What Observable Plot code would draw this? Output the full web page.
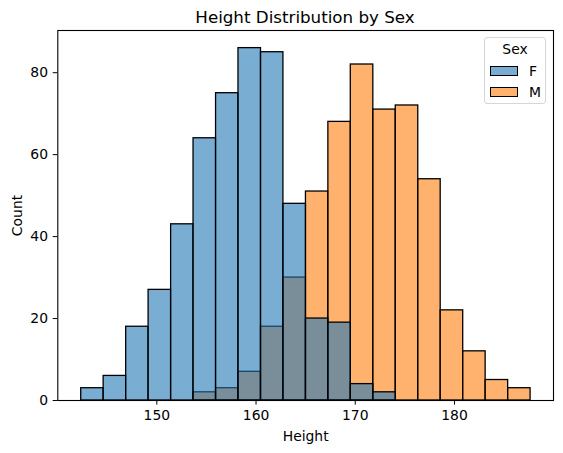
<!DOCTYPE html>
<html>
<head>
<meta charset="utf-8">
<script src="https://cdn.jsdelivr.net/npm/d3@7"></script>
<script src="https://cdn.jsdelivr.net/npm/@observablehq/plot@0.6"></script>
<style>
  body { margin: 0; background: #fff; font-family: "DejaVu Sans", sans-serif; }
  #wrap { position: relative; width: 563px; height: 453px; }
  #chart { position: absolute; left: 0; top: 0; }
  #title { position: absolute; left: 57px; width: 496px; top: 7px; text-align: center; font-size: 16.7px; color: #000; line-height: 20px; }
  #legendBox { position: absolute; left: 484px; top: 37px; width: 62px; height: 67px; box-sizing: border-box;
               border: 1px solid #d6d6d6; border-radius: 3px; background: rgba(255,255,255,0.8); }
  .lgText { position: absolute; font-size: 13.9px; line-height: 16px; color: #000; white-space: nowrap; }
  .sw { position: absolute; left: 490px; width: 28px; height: 10px; box-sizing: border-box; border: 1.3px solid #000; }
</style>
</head>
<body>
<div id="wrap">
  <div id="chart"></div>
  <div id="title"></div>
  <div id="legendBox"></div>
</div>
<script>
const chartTitle = "Height Distribution by Sex";
const xLabel = "Height";
const yLabel = "Count";
const legendTitle = "Sex";
const sexes = ["F", "M"];
const sexColors = ["#1f77b4", "#ff7f0e"];
const binEdges = [142.38, 144.64, 146.91, 149.17, 151.44, 153.70, 155.97, 158.23, 160.50, 162.76,
                  165.03, 167.29, 169.55, 171.82, 174.08, 176.35, 178.61, 180.88, 183.14, 185.41, 187.67];
const countsF = [3, 6, 18, 27, 43, 64, 75, 86, 85, 48, 20, 19, 4, 2, 0, 0, 0, 0, 0, 0];
const countsM = [0, 0, 0, 0, 0, 2, 3, 7, 18, 30, 51, 68, 82, 71, 72, 54, 22, 12, 5, 3];
const xTicks = [150, 160, 170, 180];
const yTicks = [0, 20, 40, 60, 80];

// M drawn first, F layered on top (as in the reference)
const rows = [];
countsM.forEach((c, i) => { if (c > 0) rows.push({sex: "M", x1: binEdges[i], x2: binEdges[i + 1], count: c}); });
countsF.forEach((c, i) => { if (c > 0) rows.push({sex: "F", x1: binEdges[i], x2: binEdges[i + 1], count: c}); });

const chart = Plot.plot({
  width: 563,
  height: 453,
  marginLeft: 57.3,
  marginRight: 10,
  marginTop: 30,
  marginBottom: 53,
  style: { fontFamily: "DejaVu Sans, sans-serif", fontSize: "13.9px", color: "#000", background: "#fff" },
  x: { domain: [140.02, 189.98], ticks: xTicks, tickSize: 4.6, tickPadding: 5.4, label: xLabel,
       labelAnchor: "center", labelArrow: "none", labelOffset: 40 },
  y: { domain: [0, 90.3], ticks: yTicks, tickSize: 4.6, tickPadding: 5.2, label: yLabel,
       labelAnchor: "center", labelArrow: "none", labelOffset: 45.5 },
  color: { domain: sexes, range: sexColors },
  marks: [
    Plot.rect(rows, { x1: "x1", x2: "x2", y1: d => 0, y2: "count", fill: "sex", fillOpacity: 0.6,
                      stroke: "#000", strokeWidth: 1.3 }),
    Plot.frame({ stroke: "#000", strokeWidth: 1.1 })
  ]
});
document.getElementById("chart").appendChild(chart);
document.getElementById("title").textContent = chartTitle;

const wrap = document.getElementById("wrap");
const lt = document.createElement("div");
lt.className = "lgText";
lt.style.left = "484px"; lt.style.width = "62px"; lt.style.textAlign = "center"; lt.style.top = "41px";
lt.textContent = legendTitle;
wrap.appendChild(lt);
sexes.forEach((s, i) => {
  const sw = document.createElement("div");
  sw.className = "sw";
  sw.style.top = (65.5 + i * 21.5) + "px";
  const c = d3.color(sexColors[i]); c.opacity = 0.6;
  sw.style.background = c.formatRgb();
  wrap.appendChild(sw);
  const lb = document.createElement("div");
  lb.className = "lgText";
  lb.style.left = "529px";
  lb.style.top = (62.5 + i * 21.5) + "px";
  lb.textContent = s;
  wrap.appendChild(lb);
});
</script>
</body>
</html>
